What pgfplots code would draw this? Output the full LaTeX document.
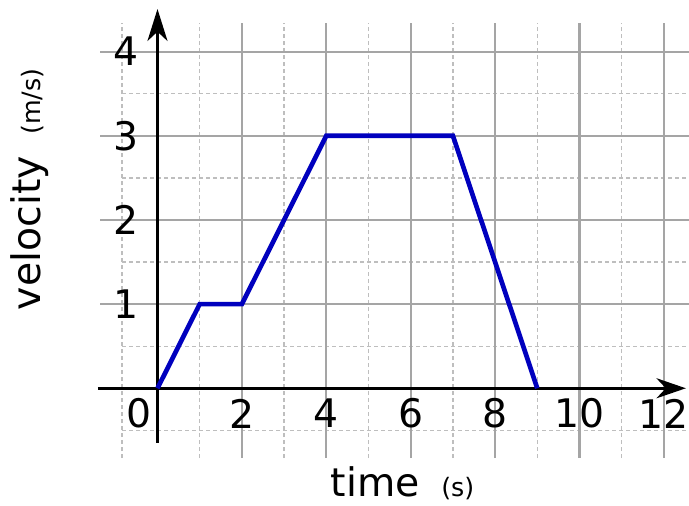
\documentclass[border=0pt]{standalone}
\usepackage{pgfplots}
\pgfplotsset{compat=1.18}
\usepackage{fontspec}
\setmainfont{DejaVu Sans}
\usetikzlibrary{arrows.meta}

\definecolor{curve}{RGB}{0,0,190}
\definecolor{gridmajor}{RGB}{165,165,165}
\definecolor{gridminor}{RGB}{190,190,190}

\begin{document}
\begin{tikzpicture}
\begin{axis}[
  scale only axis, width=516.75pt, height=379.5pt,
  xmin=-3.732, xmax=12.595, ymin=-1.399, ymax=4.614,
  hide axis, clip=false,
]
% dashed half-unit grid
\pgfplotsinvokeforeach{-0.84,1,3,5,7,9,11}{
  \draw[gridminor, line width=0.95pt, dash pattern=on 3pt off 2.25pt]
    (axis cs:#1,-0.83) -- (axis cs:#1,4.34);
}
\pgfplotsinvokeforeach{-0.5,0.5,1.5,2.5,3.5}{
  \draw[gridminor, line width=0.95pt, dash pattern=on 3pt off 2.25pt]
    (axis cs:-0.84,#1) -- (axis cs:12.595,#1);
}
% solid unit grid
\pgfplotsinvokeforeach{2,4,6,8,10,12}{
  \draw[gridmajor, line width=1.6pt] (axis cs:#1,-0.83) -- (axis cs:#1,4.34);
}
\pgfplotsinvokeforeach{1,2,3,4}{
  \draw[gridmajor, line width=1.6pt] (axis cs:-1.36,#1) -- (axis cs:12.595,#1);
}
% axes with arrows
\draw[line width=2.2pt, -{Stealth[length=24pt,width=15pt,inset=7pt]}]
  (axis cs:0,-0.65) -- (axis cs:0,4.507);
\draw[line width=2.2pt, -{Stealth[length=22pt,width=15pt,inset=7pt]}]
  (axis cs:-1.41,0) -- (axis cs:12.52,0);
% tick labels
\pgfplotsinvokeforeach{1,2,3,4}{
  \node[anchor=east, inner sep=0pt, font=\fontsize{29.5}{29.5}\selectfont] at (axis cs:-0.45,#1) {#1};
}
\node[inner sep=0pt, font=\fontsize{29.5}{29.5}\selectfont] at (axis cs:-0.43,-0.30) {0};
\pgfplotsinvokeforeach{2,4,6,8,10,12}{
  \node[inner sep=0pt, font=\fontsize{29.5}{29.5}\selectfont] at (axis cs:#1,-0.30) {#1};
}
% axis titles
\node[rotate=90, inner sep=0pt, font=\fontsize{29.5}{29.5}\selectfont] at (axis cs:-3.02,2.365)
  {velocity\hspace{0.55em}{\fontsize{19}{19}\selectfont (m/s)}};
\node[anchor=base, inner sep=0pt, font=\fontsize{29.5}{29.5}\selectfont] at (axis cs:5.806,-1.292)
  {time\hspace{0.55em}{\fontsize{19}{19}\selectfont (s)}};
% velocity curve
\addplot[curve, line width=3.5pt] coordinates {(0,0) (1,1) (2,1) (4,3) (7,3) (9,0)};
\end{axis}
\pgfresetboundingbox
\useasboundingbox (current axis.south west) rectangle (current axis.north east);
\end{tikzpicture}
\end{document}
